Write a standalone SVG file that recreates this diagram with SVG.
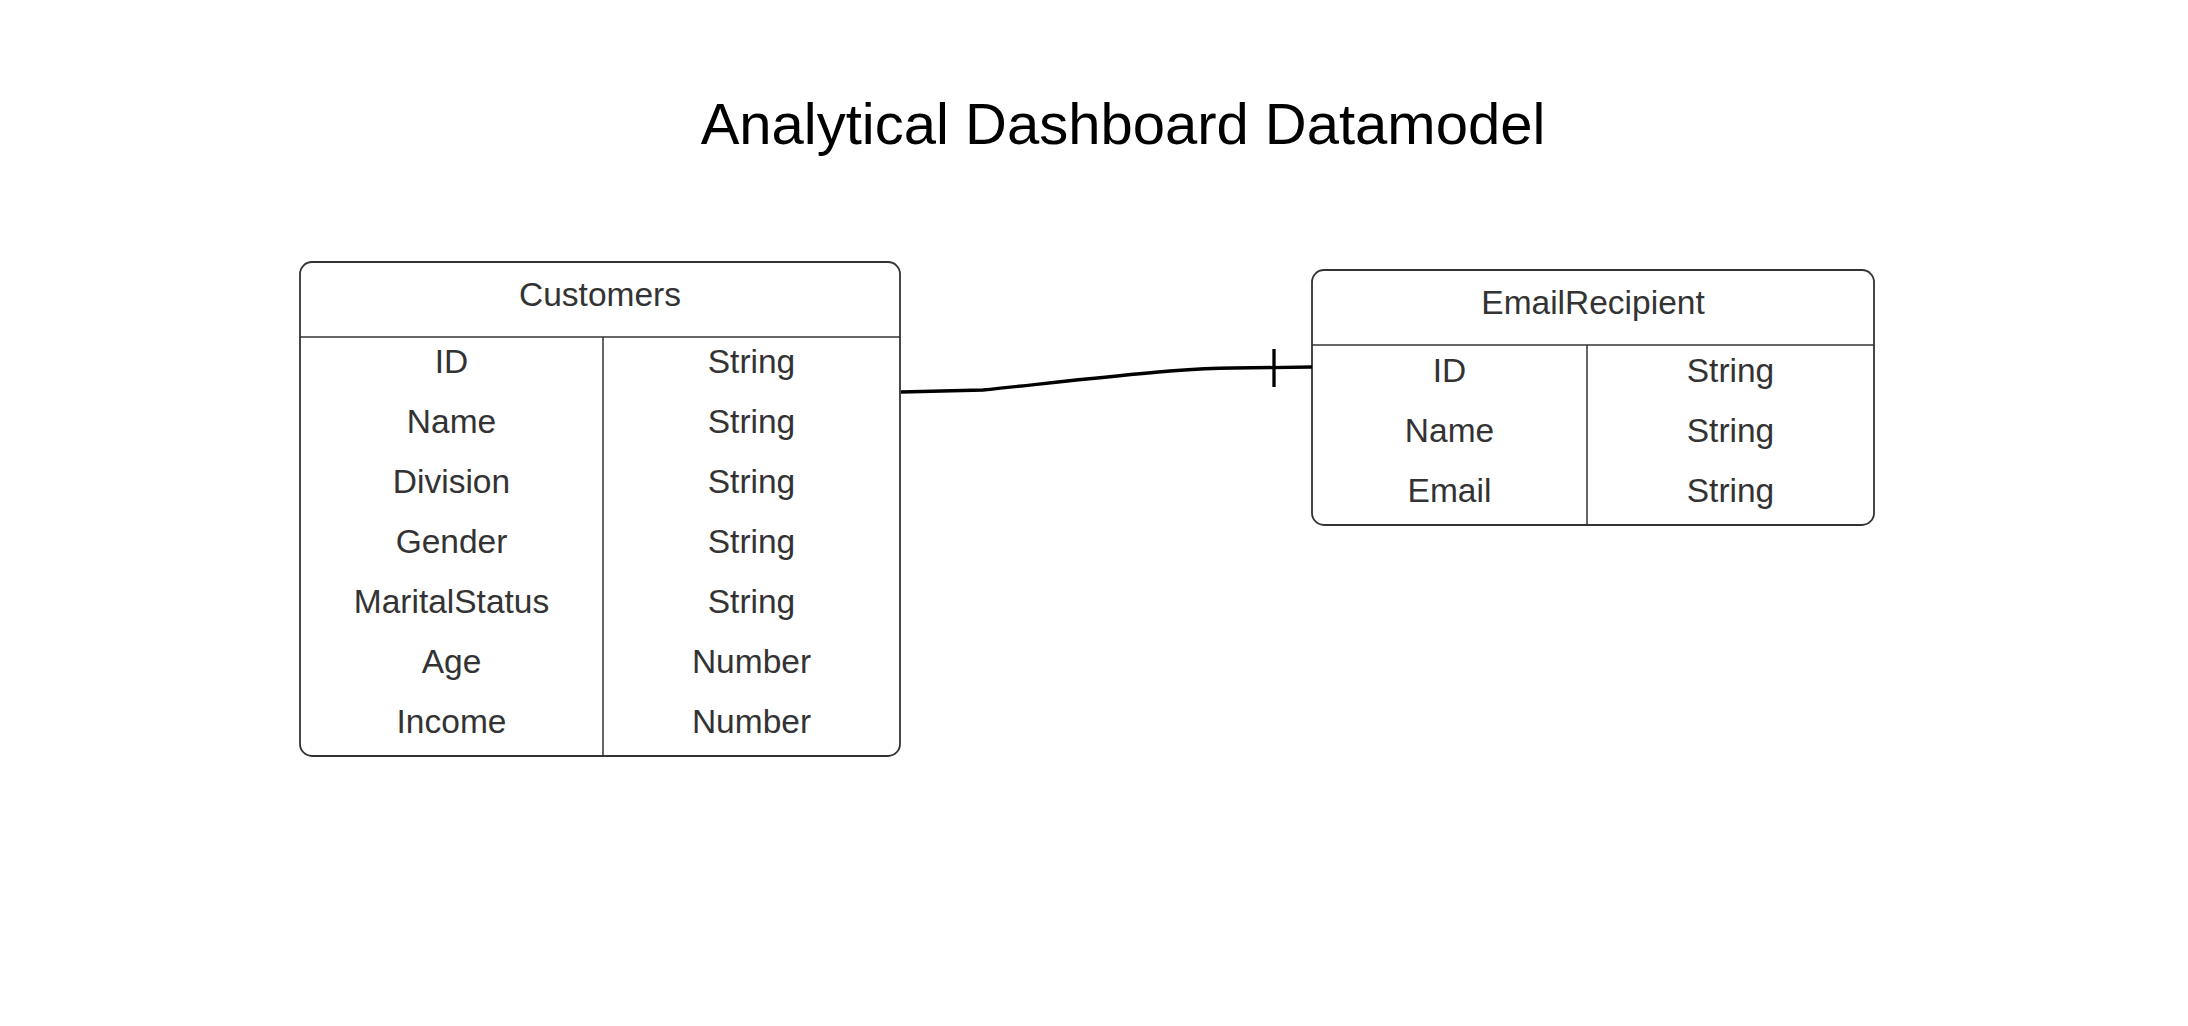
<svg xmlns="http://www.w3.org/2000/svg" width="2188" height="1026" viewBox="0 0 2188 1026">
<style>
.box{fill:#fff;stroke:#333;stroke-width:1.8}
.div{stroke:#333;stroke-width:1.5;fill:none}
.t{font-family:"Liberation Sans",Arial,sans-serif;font-size:33.5px;fill:#333;text-anchor:middle}
.title{font-family:"Liberation Sans",Arial,sans-serif;font-size:58px;fill:#000;text-anchor:middle}
.conn{stroke:#000;stroke-width:3.3;fill:none;stroke-linejoin:round;stroke-linecap:butt}
</style>
<rect width="2188" height="1026" fill="#fff"/>
<text class="title" x="1123" y="144">Analytical Dashboard Datamodel</text>
<g id="customers">
<rect class="box" x="300" y="262" width="600" height="494" rx="12"/>
<line class="div" x1="300" y1="337" x2="900" y2="337"/>
<line class="div" x1="603" y1="337" x2="603" y2="756"/>
<text class="t" x="600" y="306">Customers</text>
<text class="t" x="451.5" y="373">ID</text><text class="t" x="751.5" y="373">String</text>
<text class="t" x="451.5" y="433">Name</text><text class="t" x="751.5" y="433">String</text>
<text class="t" x="451.5" y="493">Division</text><text class="t" x="751.5" y="493">String</text>
<text class="t" x="451.5" y="553">Gender</text><text class="t" x="751.5" y="553">String</text>
<text class="t" x="451.5" y="613">MaritalStatus</text><text class="t" x="751.5" y="613">String</text>
<text class="t" x="451.5" y="673">Age</text><text class="t" x="751.5" y="673">Number</text>
<text class="t" x="451.5" y="733">Income</text><text class="t" x="751.5" y="733">Number</text>
</g>
<g id="emailrecipient">
<rect class="box" x="1312" y="270" width="562" height="255" rx="12"/>
<line class="div" x1="1312" y1="345" x2="1874" y2="345"/>
<line class="div" x1="1587" y1="345" x2="1587" y2="525"/>
<text class="t" x="1593" y="314">EmailRecipient</text>
<text class="t" x="1449.5" y="382">ID</text><text class="t" x="1730.5" y="382">String</text>
<text class="t" x="1449.5" y="442">Name</text><text class="t" x="1730.5" y="442">String</text>
<text class="t" x="1449.5" y="502">Email</text><text class="t" x="1730.5" y="502">String</text>
</g>
<g id="connectors">
<path class="conn" d="M901 392 L983 390 C1050 383 1110 376 1170 371 C1195 369 1215 368 1233 368 L1312 367"/>
<line class="conn" x1="1274" y1="349" x2="1274" y2="387"/>
</g>
</svg>
